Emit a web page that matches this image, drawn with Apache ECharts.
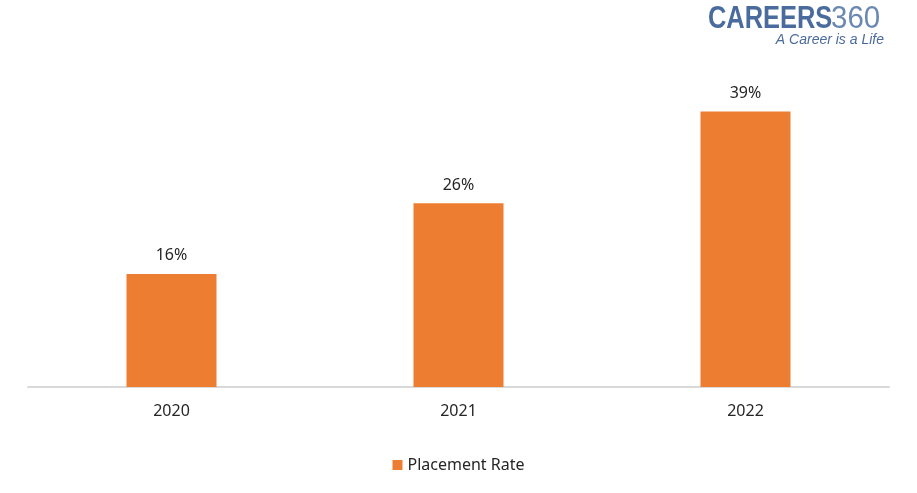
<!DOCTYPE html>
<html><head><meta charset="utf-8">
<script src="https://cdn.jsdelivr.net/npm/echarts@6/dist/echarts.min.js"></script>
<style>html,body{margin:0;padding:0;background:#fff}#c{width:917px;height:493px}</style>
</head><body><div id="c"></div>
<script>
const categories = ['2020', '2021', '2022'];
const placementRate = [16, 26, 39];
const seriesName = 'Placement Rate';

const chart = echarts.init(document.getElementById('c'));
chart.setOption({
  animation: false,
  backgroundColor: '#fff',
  grid: { left: 28, right: 28, top: 69, bottom: 106 },
  xAxis: {
    type: 'category', data: categories,
    axisLine: { lineStyle: { color: '#d9d9d9', width: 2 } },
    axisTick: { show: false },
    axisLabel: { color: '#262626', fontFamily: 'Noto Sans', fontSize: 16, margin: 16 }
  },
  yAxis: { type: 'value', min: 0, max: 45, show: false, splitLine: { show: false } },
  legend: {
    bottom: 15, left: 'center', itemWidth: 10, itemHeight: 10, icon: 'rect',
    textStyle: { color: '#262626', fontFamily: 'Noto Sans', fontSize: 16 },
    data: [seriesName]
  },
  series: [{
    name: seriesName, type: 'bar', data: placementRate, barWidth: 90,
    itemStyle: { color: '#ED7D31' },
    label: { show: true, position: 'top', distance: 10, formatter: '{c}%', color: '#262626', fontFamily: 'Noto Sans', fontSize: 16 }
  }],
  graphic: [
    { type: 'text', x: 708, y: 4, scaleX: 0.82, style: { text: 'CAREERS', fill: '#4a6b9d', font: 'bold 31px "Liberation Sans"' } },
    { type: 'text', x: 831, y: 4, scaleX: 0.95, style: { text: '360', fill: '#6a88b2', font: '31px "Liberation Sans"' } },
    { type: 'text', right: 33, top: 33, style: { text: 'A Career is a Life', fill: '#4a6b9d', font: 'italic 14px "Liberation Sans"' } }
  ]
});
</script></body></html>
